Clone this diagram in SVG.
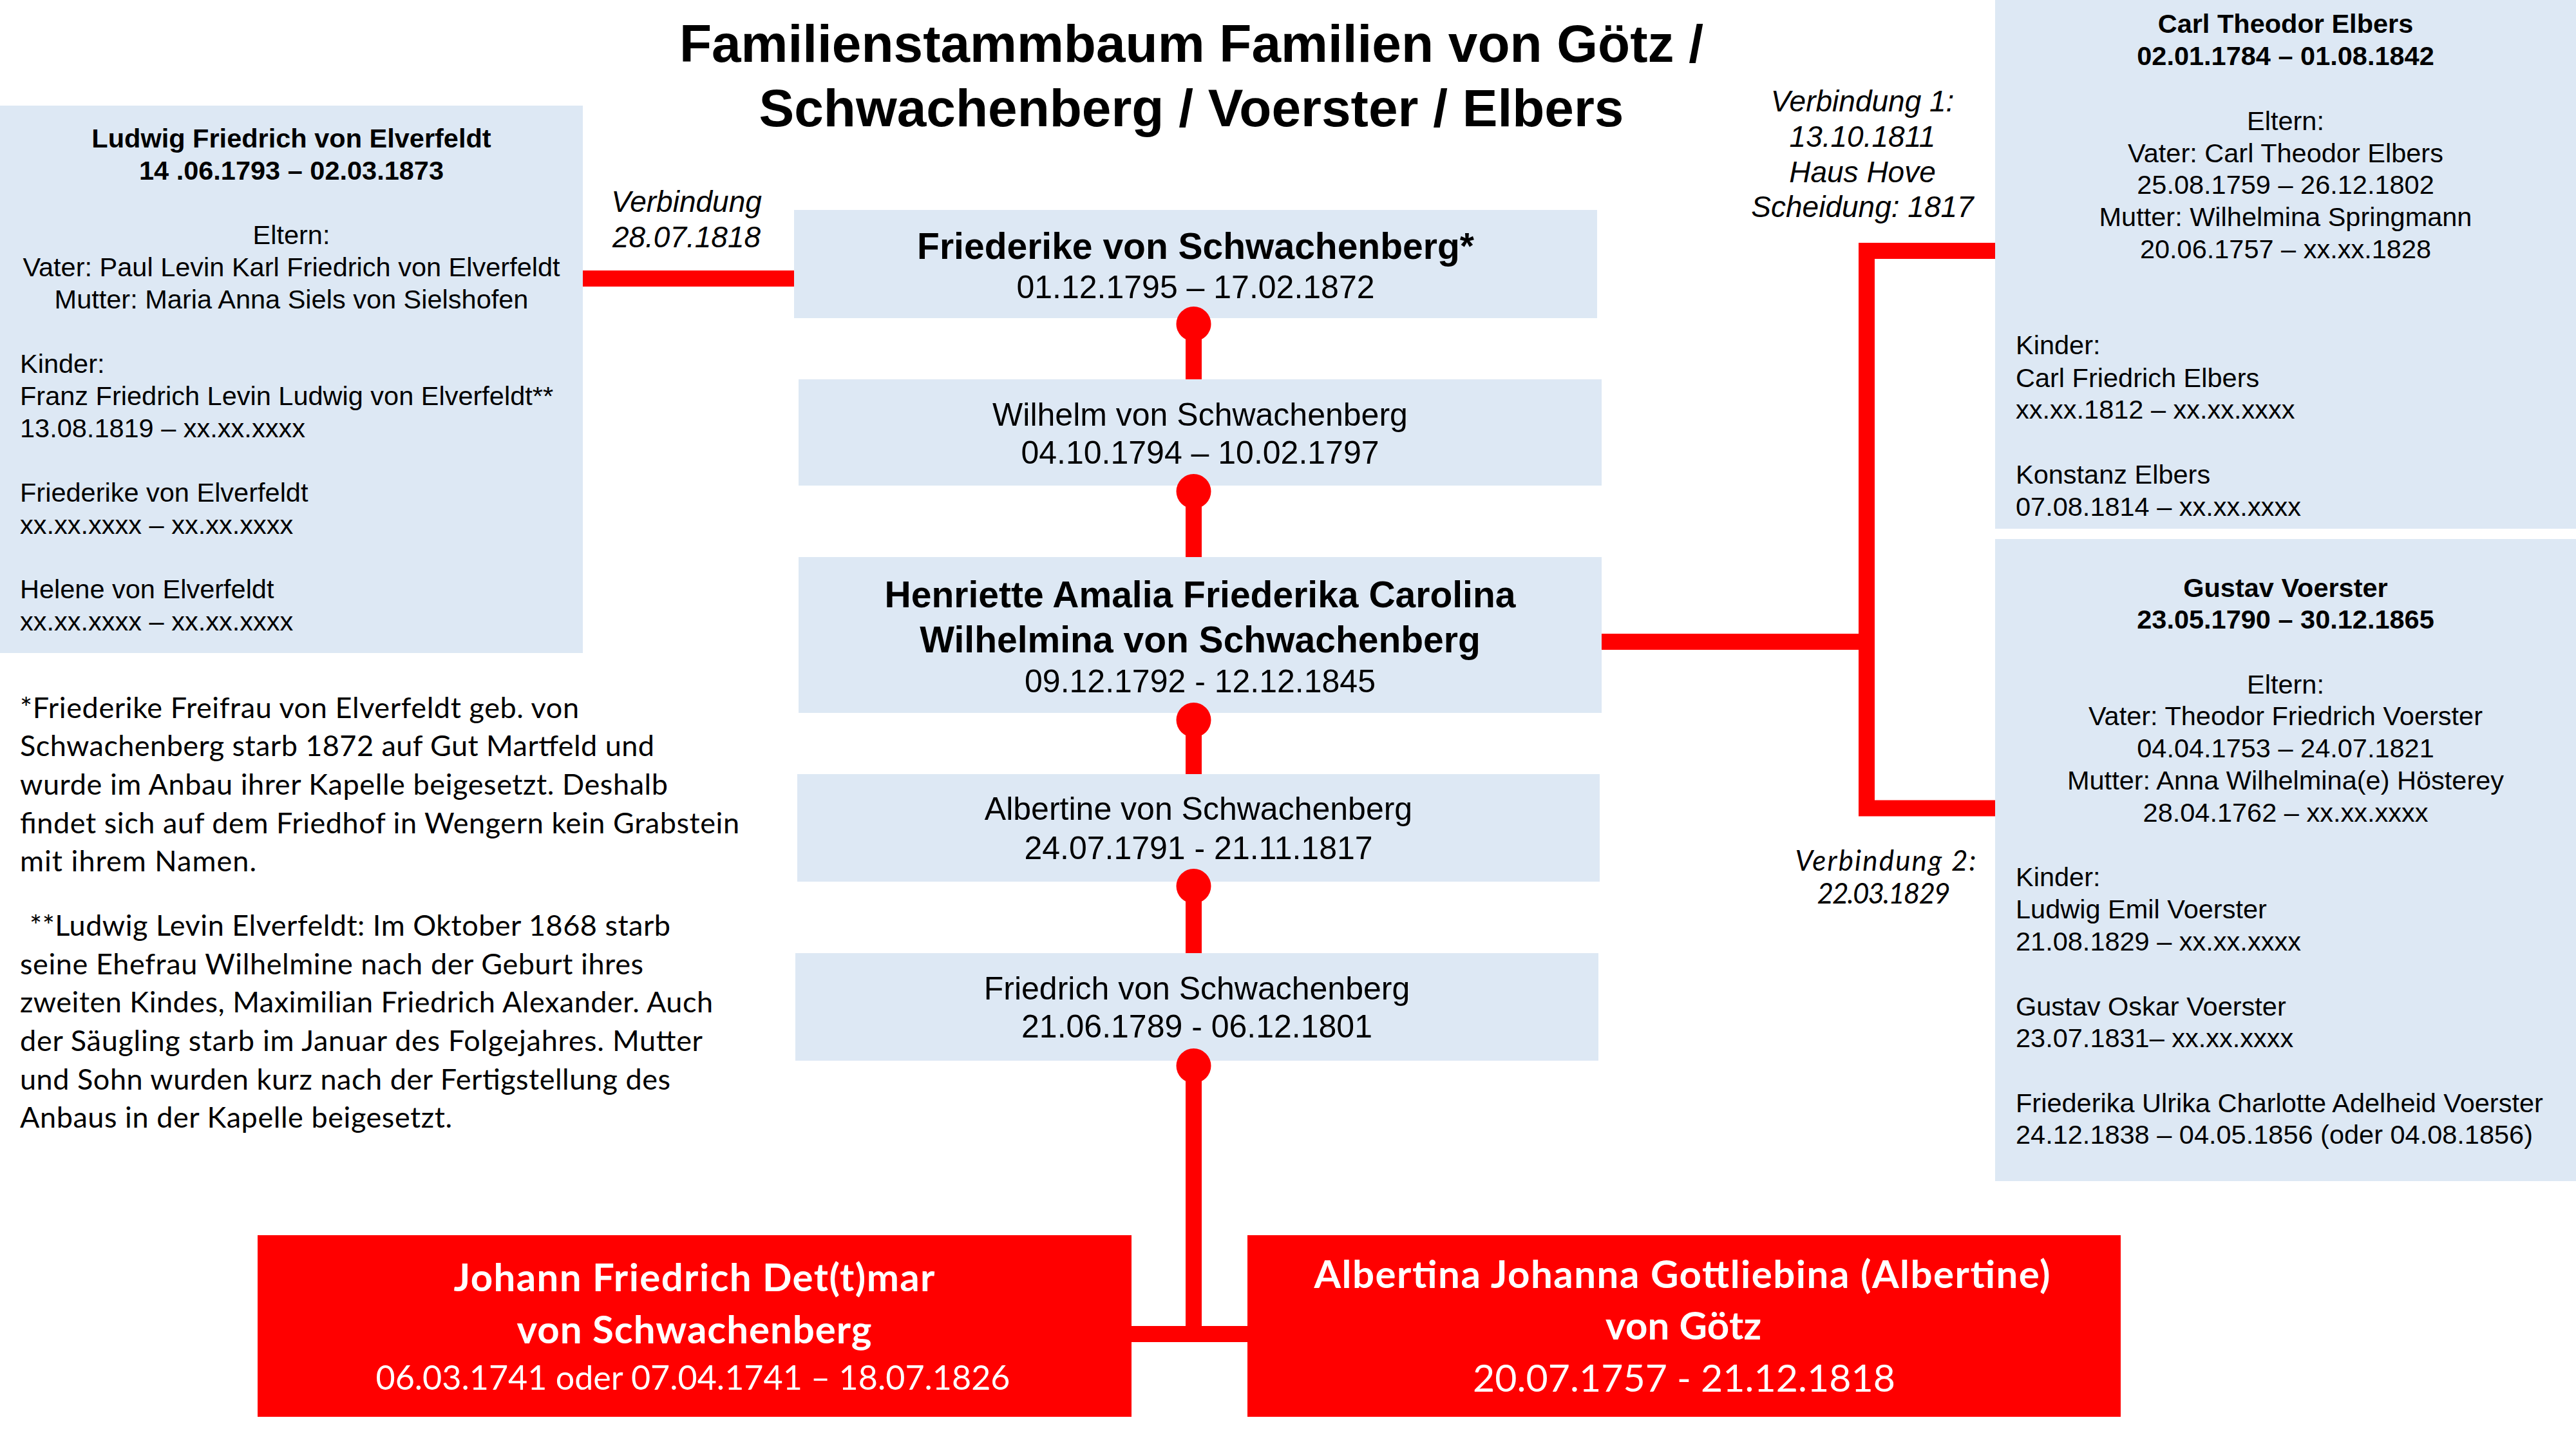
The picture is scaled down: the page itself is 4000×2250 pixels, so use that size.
<svg xmlns="http://www.w3.org/2000/svg" width="4000" height="2250" viewBox="0 0 4000 2250">
<style>
.box{fill:#DDE8F4}
.rbox{fill:#FF0000}
.t{font-family:"Liberation Sans",Arial,sans-serif;fill:#000;font-size:41.5px}
.b{font-weight:bold}
.c{text-anchor:middle}
.i{font-style:italic}
.cal{font-family:Lato,"Liberation Sans",sans-serif;fill:#000}
.w{fill:#FFFFFF}
.conn{stroke:#FF0000;stroke-width:25;fill:none;stroke-linejoin:miter}
.stem{stroke:#FF0000;stroke-width:25;fill:none;marker-start:url(#dot)}
</style>
<defs>
<marker id="dot" markerUnits="userSpaceOnUse" markerWidth="56" markerHeight="56" refX="28" refY="28" viewBox="0 0 56 56"><circle cx="28" cy="28" r="27" fill="#FF0000"/></marker>
</defs>
<rect width="4000" height="2250" fill="#FFFFFF"/>

<g id="title">
<text class="t b c" style="font-size:82px" x="1850" y="96">Familienstammbaum Familien von Götz /</text>
<text class="t b c" style="font-size:82px" x="1850" y="196">Schwachenberg / Voerster / Elbers</text>
</g>

<g id="label-verbindung">
<text class="t i c" style="font-size:46px" x="1066" y="329">Verbindung</text>
<text class="t i c" style="font-size:46px" x="1066" y="384">28.07.1818</text>
</g>

<g id="label-verbindung1">
<text class="t i c" style="font-size:46px" x="2892" y="173">Verbindung 1:</text>
<text class="t i c" style="font-size:46px" x="2892" y="228">13.10.1811</text>
<text class="t i c" style="font-size:46px" x="2892" y="283">Haus Hove</text>
<text class="t i c" style="font-size:46px" x="2892" y="337">Scheidung: 1817</text>
</g>

<g id="label-verbindung2">
<text class="cal i c" style="font-size:44px" x="2928" y="1352" textLength="281">Verbindung 2:</text>
<text class="cal i c" style="font-size:44px" x="2925" y="1403" textLength="207">22.03.1829</text>
</g>

<g id="node-ludwig">
<rect class="box" x="0" y="164" width="905" height="850"/>
<text class="t b c" x="452.5" y="229">Ludwig Friedrich von Elverfeldt</text>
<text class="t b c" x="452.5" y="279">14 .06.1793 – 02.03.1873</text>
<text class="t c" x="452.5" y="379">Eltern:</text>
<text class="t c" x="452.5" y="429">Vater: Paul Levin Karl Friedrich von Elverfeldt</text>
<text class="t c" x="452.5" y="479">Mutter: Maria Anna Siels von Sielshofen</text>
<text class="t" x="31" y="579">Kinder:</text>
<text class="t" x="31" y="629">Franz Friedrich Levin Ludwig von Elverfeldt**</text>
<text class="t" x="31" y="679">13.08.1819 – xx.xx.xxxx</text>
<text class="t" x="31" y="779">Friederike von Elverfeldt</text>
<text class="t" x="31" y="829">xx.xx.xxxx – xx.xx.xxxx</text>
<text class="t" x="31" y="929">Helene von Elverfeldt</text>
<text class="t" x="31" y="979">xx.xx.xxxx – xx.xx.xxxx</text>
</g>

<g id="node-friederike">
<rect class="box" x="1233" y="326" width="1247" height="168"/>
<text class="t b c" style="font-size:57px" x="1856.5" y="402">Friederike von Schwachenberg*</text>
<text class="t c" style="font-size:50px" x="1856.5" y="463">01.12.1795 – 17.02.1872</text>
</g>

<g id="node-wilhelm">
<rect class="box" x="1240" y="589" width="1247" height="165"/>
<text class="t c" style="font-size:50px" x="1863.5" y="661">Wilhelm von Schwachenberg</text>
<text class="t c" style="font-size:50px" x="1863.5" y="720">04.10.1794 – 10.02.1797</text>
</g>

<g id="node-henriette">
<rect class="box" x="1240" y="865" width="1247" height="242"/>
<text class="t b c" style="font-size:57px" x="1863.5" y="943">Henriette Amalia Friederika Carolina</text>
<text class="t b c" style="font-size:57px" x="1863.5" y="1013">Wilhelmina von Schwachenberg</text>
<text class="t c" style="font-size:50px" x="1863.5" y="1075">09.12.1792 - 12.12.1845</text>
</g>

<g id="node-albertine">
<rect class="box" x="1238" y="1202" width="1246" height="167"/>
<text class="t c" style="font-size:50px" x="1861" y="1273">Albertine von Schwachenberg</text>
<text class="t c" style="font-size:50px" x="1861" y="1334">24.07.1791 - 21.11.1817</text>
</g>

<g id="node-friedrich">
<rect class="box" x="1235" y="1480" width="1247" height="167"/>
<text class="t c" style="font-size:50px" x="1858.5" y="1552">Friedrich von Schwachenberg</text>
<text class="t c" style="font-size:50px" x="1858.5" y="1611">21.06.1789 - 06.12.1801</text>
</g>

<g id="node-carl">
<rect class="box" x="3098" y="0" width="902" height="821"/>
<text class="t b c" x="3549" y="51">Carl Theodor Elbers</text>
<text class="t b c" x="3549" y="101">02.01.1784 – 01.08.1842</text>
<text class="t c" x="3549" y="202">Eltern:</text>
<text class="t c" x="3549" y="252">Vater: Carl Theodor Elbers</text>
<text class="t c" x="3549" y="301">25.08.1759 – 26.12.1802</text>
<text class="t c" x="3549" y="351">Mutter: Wilhelmina Springmann</text>
<text class="t c" x="3549" y="401">20.06.1757 – xx.xx.1828</text>
<text class="t" x="3130" y="550">Kinder:</text>
<text class="t" x="3130" y="601">Carl Friedrich Elbers</text>
<text class="t" x="3130" y="650">xx.xx.1812 – xx.xx.xxxx</text>
<text class="t" x="3130" y="751">Konstanz Elbers</text>
<text class="t" x="3130" y="801">07.08.1814 – xx.xx.xxxx</text>
</g>

<g id="node-gustav">
<rect class="box" x="3098" y="837" width="902" height="997"/>
<text class="t b c" x="3549" y="927">Gustav Voerster</text>
<text class="t b c" x="3549" y="976">23.05.1790 – 30.12.1865</text>
<text class="t c" x="3549" y="1077">Eltern:</text>
<text class="t c" x="3549" y="1126">Vater: Theodor Friedrich Voerster</text>
<text class="t c" x="3549" y="1176">04.04.1753 – 24.07.1821</text>
<text class="t c" x="3549" y="1226">Mutter: Anna Wilhelmina(e) Hösterey</text>
<text class="t c" x="3549" y="1276">28.04.1762 – xx.xx.xxxx</text>
<text class="t" x="3130" y="1376">Kinder:</text>
<text class="t" x="3130" y="1426">Ludwig Emil Voerster</text>
<text class="t" x="3130" y="1476">21.08.1829 – xx.xx.xxxx</text>
<text class="t" x="3130" y="1577">Gustav Oskar Voerster</text>
<text class="t" x="3130" y="1626">23.07.1831– xx.xx.xxxx</text>
<text class="t" x="3130" y="1727">Friederika Ulrika Charlotte Adelheid Voerster</text>
<text class="t" x="3130" y="1776">24.12.1838 – 04.05.1856 (oder 04.08.1856)</text>
</g>

<g id="footnotes">
<text class="cal" style="font-size:45px" x="31" y="1115" textLength="868">*Friederike Freifrau von Elverfeldt geb. von</text>
<text class="cal" style="font-size:45px" x="31" y="1174" textLength="985">Schwachenberg starb 1872 auf Gut Martfeld und</text>
<text class="cal" style="font-size:45px" x="31" y="1234" textLength="1006">wurde im Anbau ihrer Kapelle beigesetzt. Deshalb</text>
<text class="cal" style="font-size:45px" x="31" y="1294" textLength="1117">findet sich auf dem Friedhof in Wengern kein Grabstein</text>
<text class="cal" style="font-size:45px" x="31" y="1353" textLength="367">mit ihrem Namen.</text>
<text class="cal" style="font-size:45px" x="46" y="1453" textLength="995">**Ludwig Levin Elverfeldt: Im Oktober 1868 starb</text>
<text class="cal" style="font-size:45px" x="31" y="1513" textLength="968">seine Ehefrau Wilhelmine nach der Geburt ihres</text>
<text class="cal" style="font-size:45px" x="31" y="1572" textLength="1076">zweiten Kindes, Maximilian Friedrich Alexander. Auch</text>
<text class="cal" style="font-size:45px" x="31" y="1632" textLength="1060">der Säugling starb im Januar des Folgejahres. Mutter</text>
<text class="cal" style="font-size:45px" x="31" y="1692" textLength="1010">und Sohn wurden kurz nach der Fertigstellung des</text>
<text class="cal" style="font-size:45px" x="31" y="1751" textLength="671">Anbaus in der Kapelle beigesetzt.</text>
</g>

<g id="node-johann">
<rect class="rbox" x="400" y="1918" width="1357" height="282"/>
<text class="cal w b c" style="font-size:60px" x="1078" y="2005" textLength="747">Johann Friedrich Det(t)mar</text>
<text class="cal w b c" style="font-size:60px" x="1078" y="2086" textLength="551">von Schwachenberg</text>
<text class="cal w c" style="font-size:52px" x="1076" y="2158" textLength="985">06.03.1741 oder 07.04.1741 – 18.07.1826</text>
</g>

<g id="node-albertina">
<rect class="rbox" x="1937" y="1918" width="1356" height="282"/>
<text class="cal w b c" style="font-size:60px" x="2612" y="2000" textLength="1143">Albertina Johanna Gottliebina (Albertine)</text>
<text class="cal w b c" style="font-size:60px" x="2614" y="2080" textLength="242">von Götz</text>
<text class="cal w c" style="font-size:59px" x="2615" y="2161" textLength="656">20.07.1757 - 21.12.1818</text>
</g>

<g id="connectors">
<line class="conn" x1="905" y1="432.5" x2="1233" y2="432.5"/>
<line class="stem" x1="1853.5" y1="503" x2="1853.5" y2="589"/>
<line class="stem" x1="1853.5" y1="763" x2="1853.5" y2="865"/>
<line class="stem" x1="1853.5" y1="1118" x2="1853.5" y2="1202"/>
<line class="stem" x1="1853.5" y1="1376" x2="1853.5" y2="1480"/>
<line class="stem" x1="1853.5" y1="1655" x2="1853.5" y2="2071.5"/>
<line class="conn" x1="1757" y1="2071.5" x2="1937" y2="2071.5"/>
<path class="conn" d="M3098,389.5 H2898.5 V1255 H3098"/>
<line class="conn" x1="2487" y1="996.5" x2="2898.5" y2="996.5"/>
</g>
</svg>
